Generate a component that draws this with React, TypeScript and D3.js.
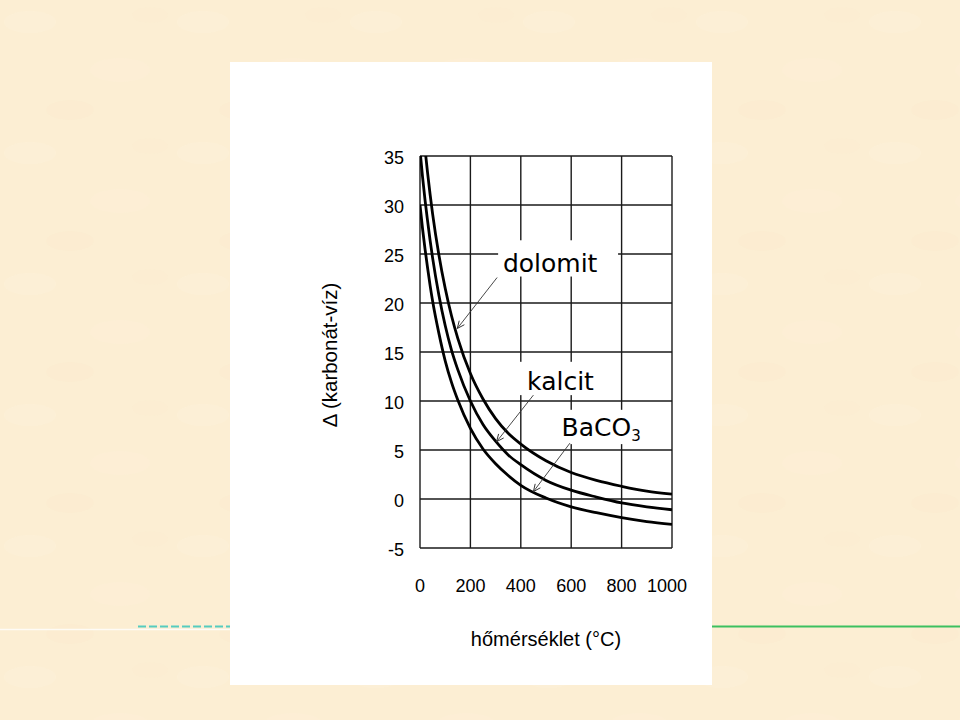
import React from "react";
import * as d3 from "d3";

// ---- data ----
const temps = [0, 10, 20, 30, 40, 50, 75, 100, 125, 150, 200, 250, 300, 350, 400, 500, 600, 700, 800, 900, 1000];
const dolomit = [41.4, 38.4, 35.7, 33.3, 31.1, 29.1, 24.9, 21.5, 18.7, 16.4, 12.8, 10.2, 8.2, 6.7, 5.6, 3.9, 2.7, 1.9, 1.3, 0.8, 0.5];
const kalcit = [35.6, 32.9, 30.5, 28.4, 26.4, 24.6, 20.8, 17.7, 15.2, 13.2, 10.0, 7.6, 5.9, 4.5, 3.5, 1.9, 0.9, 0.2, -0.4, -0.8, -1.1];
const baco3 = [30.0, 27.6, 25.5, 23.6, 21.8, 20.2, 16.9, 14.1, 11.9, 10.1, 7.2, 5.1, 3.6, 2.4, 1.4, 0.1, -0.8, -1.4, -1.9, -2.3, -2.6];
const xTicks = [0, 200, 400, 600, 800, 1000];
const yTicks = [-5, 0, 5, 10, 15, 20, 25, 30, 35];
const xTitle = "hőmérséklet (°C)";
const yTitle = "Δ (karbonát-víz)";

// annotations in data coordinates
const labels = [
  { name: "dolomit", sub: "", tx: 329, tv: 23.2, box: [310, 786, 26.4, 22.7], from: [306, 22.6], to: [148, 17.4] },
  { name: "kalcit", sub: "", tx: 425, tv: 11.1, box: [385, 683, 14.0, 10.6], from: [450, 10.6], to: [304, 5.85] },
  { name: "BaCO", sub: "3", tx: 562, tv: 6.4, box: [540, 905, 9.1, 5.6], from: [595, 5.7], to: [450, 0.75] },
];

const series = [dolomit, kalcit, baco3];

export default function App() {
  const x = d3.scaleLinear().domain([0, 1000]).range([420, 672]);
  const y = d3.scaleLinear().domain([-5, 35]).range([548, 156]);
  const line = d3
    .line<number>()
    .x((_, i) => x(temps[i]))
    .y((d) => y(d))
    .curve(d3.curveMonotoneX);

  const arrowHead = (x1: number, y1: number, x2: number, y2: number) => {
    const a = Math.atan2(y2 - y1, x2 - x1);
    const L = 8;
    const s = 0.42;
    const p1 = [x2 - L * Math.cos(a - s), y2 - L * Math.sin(a - s)];
    const p2 = [x2 - L * Math.cos(a + s), y2 - L * Math.sin(a + s)];
    return `M${p1[0]},${p1[1]}L${x2},${y2}L${p2[0]},${p2[1]}`;
  };

  const tickFont = "'Liberation Sans', Arial, sans-serif";
  const annFont = "'DejaVu Sans', sans-serif";

  return (
    <svg
      width={960}
      height={720}
      style={{ position: "fixed", left: 0, top: 0, display: "block" }}
    >
      <defs>
        <clipPath id="plotclip">
          <rect x={x(0)} y={y(35)} width={x(1000) - x(0)} height={y(-5) - y(35)} />
        </clipPath>
        <pattern id="bgtex" width="173" height="131" patternUnits="userSpaceOnUse">
          <rect width="173" height="131" fill="#FCEED3" />
          <ellipse cx="30" cy="22" rx="26" ry="11" fill="#FDF3E0" opacity="0.25" />
          <ellipse cx="120" cy="70" rx="30" ry="12" fill="#FDF2DD" opacity="0.2" />
          <ellipse cx="70" cy="110" rx="24" ry="10" fill="#F9E8C8" opacity="0.2" />
          <ellipse cx="150" cy="15" rx="18" ry="8" fill="#F9E9CB" opacity="0.2" />
        </pattern>
      </defs>
      <rect x={0} y={0} width={960} height={720} fill="url(#bgtex)" />
      {/* decorative lines */}
      <line x1={0} x2={230} y1={629.5} y2={629.5} stroke="#FFFFFF" strokeWidth={1.5} opacity={0.8} />
      <line x1={138} x2={230} y1={626.5} y2={626.5} stroke="#55CCC0" strokeWidth={2} strokeDasharray="8,3" />
      <line x1={712} x2={960} y1={626.5} y2={626.5} stroke="#3CC060" strokeWidth={2} />
      {/* white panel */}
      <rect x={230} y={62} width={482} height={623} fill="#FFFFFF" />

      {/* grid */}
      {xTicks.map((t) => (
        <line key={"gx" + t} x1={x(t)} x2={x(t)} y1={y(35)} y2={y(-5)} stroke="#1a1a1a" strokeWidth={1.4} />
      ))}
      {yTicks.map((t) => (
        <line key={"gy" + t} x1={x(0)} x2={x(1000)} y1={y(t)} y2={y(t)} stroke="#1a1a1a" strokeWidth={1.4} />
      ))}

      {/* label boxes */}
      {labels.map((l) => (
        <rect
          key={"b" + l.name}
          x={x(l.box[0])}
          y={y(l.box[2])}
          width={x(l.box[1]) - x(l.box[0])}
          height={y(l.box[3]) - y(l.box[2])}
          fill="#FFFFFF"
        />
      ))}

      {/* curves */}
      <g clipPath="url(#plotclip)">
        {series.map((s, i) => (
          <path key={"s" + i} d={line(s) || ""} fill="none" stroke="#000" strokeWidth={2.8} />
        ))}
      </g>

      {/* annotations */}
      {labels.map((l) => {
        const x1 = x(l.from[0]);
        const y1 = y(l.from[1]);
        const x2 = x(l.to[0]);
        const y2 = y(l.to[1]);
        return (
          <g key={"a" + l.name}>
            <line x1={x1} y1={y1} x2={x2} y2={y2} stroke="#333" strokeWidth={0.9} />
            <path d={arrowHead(x1, y1, x2, y2)} fill="none" stroke="#333" strokeWidth={1} />
            <text x={x(l.tx)} y={y(l.tv)} fontFamily={annFont} fontSize={25} fill="#000">
              {l.name}
              {l.sub ? (
                <tspan fontSize={15} dy={5}>
                  {l.sub}
                </tspan>
              ) : null}
            </text>
          </g>
        );
      })}

      {/* y tick labels */}
      {yTicks.map((t) => (
        <text key={"ty" + t} x={404} y={y(t) + 8} textAnchor="end" fontFamily={tickFont} fontSize={18} fill="#000">
          {t}
        </text>
      ))}
      {/* x tick labels */}
      {xTicks.map((t, i) => (
        <text
          key={"tx" + t}
          x={x(t) + (i === xTicks.length - 1 ? -5 : 0)}
          y={592}
          textAnchor="middle"
          fontFamily={tickFont}
          fontSize={18}
          fill="#000"
        >
          {t}
        </text>
      ))}

      {/* axis titles */}
      <text x={546} y={646} textAnchor="middle" fontFamily={tickFont} fontSize={20} fill="#000">
        {xTitle}
      </text>
      <text
        transform={`translate(337,355) rotate(-90)`}
        textAnchor="middle"
        fontFamily={tickFont}
        fontSize={20.5}
        fill="#000"
      >
        {yTitle}
      </text>
    </svg>
  );
}
